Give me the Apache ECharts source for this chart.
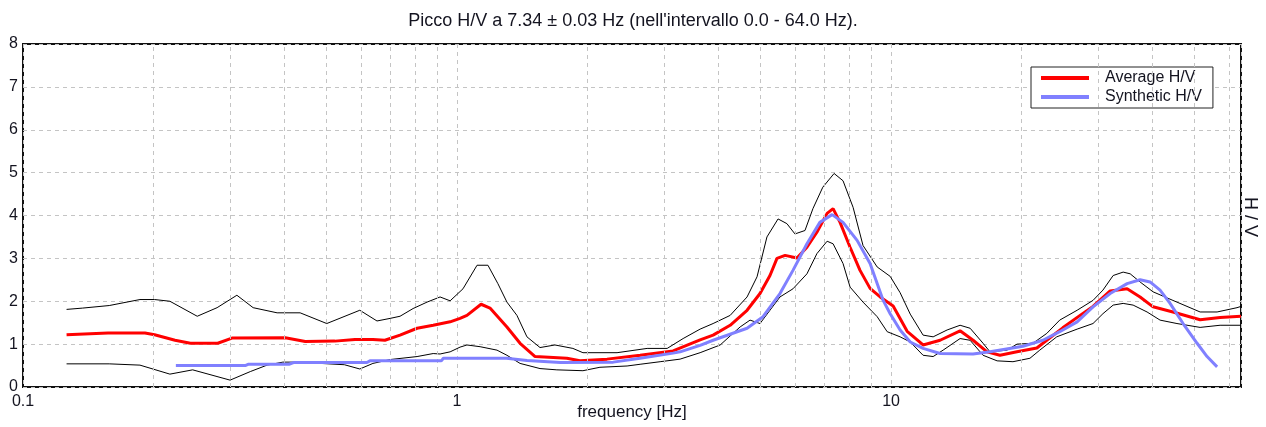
<!DOCTYPE html>
<html>
<head>
<meta charset="utf-8">
<script src="https://cdn.jsdelivr.net/npm/echarts@6/dist/echarts.min.js"></script>
<style>
html,body{margin:0;padding:0;background:#fff;}
#c{width:1266px;height:427px;}
</style>
</head>
<body>
<div id="c"></div>
<script>
// ---- data (frequency [Hz], H/V) ----
const titleText = "Picco H/V a 7.34 \u00b1 0.03 Hz (nell'intervallo 0.0 - 64.0 Hz).";
const xName = "frequency [Hz]";
const yName = "H / V";
const seriesNames = ["Average H/V", "Synthetic H/V"];

const averageHV = [[0.126,1.22],[0.157,1.26],[0.191,1.26],[0.201,1.22],[0.224,1.09],[0.243,1.02],[0.281,1.02],[0.303,1.14],[0.402,1.15],[0.447,1.06],[0.523,1.07],[0.582,1.11],[0.64,1.11],[0.682,1.09],[0.739,1.21],[0.809,1.37],[0.881,1.44],[0.964,1.52],[1.016,1.60],[1.054,1.67],[1.136,1.93],[1.191,1.84],[1.303,1.40],[1.397,1.02],[1.513,0.71],[1.791,0.67],[1.919,0.61],[2.216,0.65],[2.641,0.74],[3.146,0.84],[3.631,1.10],[3.890,1.21],[4.258,1.44],[4.658,1.79],[4.989,2.18],[5.260,2.60],[5.459,3.00],[5.700,3.07],[6.069,3.01],[6.400,3.26],[6.746,3.61],[7.122,4.05],[7.352,4.16],[7.628,3.84],[8.045,3.26],[8.481,2.72],[8.946,2.30],[9.437,2.10],[10.11,1.89],[10.89,1.30],[11.85,0.98],[12.97,1.09],[14.42,1.31],[15.45,1.09],[16.64,0.82],[17.82,0.74],[19.50,0.82],[21.67,0.91],[22.84,1.09],[24.86,1.38],[27.25,1.67],[29.19,1.88],[31.97,2.24],[34.98,2.29],[37.47,2.10],[40.14,1.87],[44.60,1.75],[51.52,1.57],[57.28,1.62],[64,1.65]];

const syntheticHV = [[0.225,0.50],[0.325,0.50],[0.33,0.53],[0.41,0.53],[0.42,0.57],[0.62,0.57],[0.63,0.61],[0.92,0.61],[0.93,0.67],[1.30,0.67],[1.45,0.62],[1.73,0.57],[2.29,0.58],[2.64,0.67],[3.146,0.79],[3.265,0.82],[3.631,0.97],[3.890,1.09],[4.658,1.37],[5.070,1.64],[5.546,2.18],[5.942,2.72],[6.400,3.34],[6.853,3.84],[7.313,4.02],[7.750,3.84],[8.350,3.42],[8.946,2.88],[9.589,2.02],[9.952,1.71],[10.49,1.33],[11.07,1.05],[11.85,0.90],[12.97,0.78],[15.45,0.77],[16.90,0.82],[20.13,0.95],[22.37,1.09],[24.46,1.29],[26.83,1.52],[29.19,1.87],[31.97,2.18],[34.98,2.41],[37.47,2.50],[39.50,2.45],[41.66,2.26],[43.93,1.95],[47.07,1.48],[50.70,1.02],[53.46,0.71],[56.38,0.47]];

const upperHV = [[0.126,1.81],[0.137,1.84],[0.158,1.90],[0.186,2.04],[0.201,2.04],[0.218,2.00],[0.252,1.65],[0.28,1.85],[0.311,2.14],[0.339,1.85],[0.385,1.73],[0.435,1.73],[0.501,1.48],[0.597,1.79],[0.654,1.54],[0.701,1.60],[0.739,1.65],[0.792,1.83],[0.853,1.98],[0.914,2.10],[0.964,2.01],[1.032,2.29],[1.112,2.84],[1.178,2.84],[1.242,2.41],[1.303,1.98],[1.374,1.67],[1.449,1.17],[1.553,0.92],[1.681,0.98],[1.849,0.90],[1.95,0.80],[2.337,0.80],[2.741,0.90],[3.049,0.90],[3.318,1.13],[3.631,1.35],[3.890,1.48],[4.258,1.67],[4.658,2.10],[4.911,2.57],[5.176,3.50],[5.49,3.92],[5.754,3.81],[6.005,3.57],[6.333,3.65],[6.606,4.16],[6.961,4.66],[7.391,4.98],[7.75,4.81],[8.175,4.19],[8.617,3.30],[9.288,2.80],[9.952,2.58],[10.49,2.20],[11.07,1.70],[11.85,1.21],[12.50,1.17],[13.46,1.33],[14.42,1.44],[15.21,1.37],[16.29,1.02],[16.90,0.82],[18.49,0.86],[19.50,1.00],[21.22,1.02],[22.84,1.25],[24.46,1.56],[26.83,1.79],[29.19,2.02],[30.77,2.26],[32.48,2.60],[34.25,2.68],[35.55,2.64],[37.47,2.45],[40.14,2.22],[44.60,2.02],[51.52,1.75],[56.38,1.75],[62.66,1.85],[64,1.88]];

const lowerHV = [[0.126,0.54],[0.158,0.54],[0.186,0.51],[0.218,0.30],[0.246,0.40],[0.30,0.16],[0.334,0.36],[0.365,0.51],[0.397,0.58],[0.428,0.58],[0.55,0.52],[0.597,0.42],[0.64,0.55],[0.701,0.64],[0.809,0.71],[0.881,0.78],[0.914,0.77],[0.964,0.82],[1.016,0.93],[1.054,0.98],[1.13,0.94],[1.236,0.86],[1.303,0.74],[1.397,0.55],[1.553,0.43],[1.698,0.40],[1.95,0.38],[2.134,0.46],[2.465,0.49],[2.641,0.53],[2.937,0.59],[3.265,0.65],[3.631,0.80],[4.039,0.98],[4.489,1.40],[4.732,1.56],[4.989,1.48],[5.26,1.79],[5.546,2.10],[5.942,2.29],[6.40,2.64],[6.746,3.11],[7.122,3.40],[7.352,3.34],[7.75,2.88],[8.045,2.33],[8.617,1.98],[9.288,1.64],[9.795,1.29],[10.49,1.17],[11.07,1.05],[11.85,0.74],[12.50,0.71],[13.18,0.86],[14.42,1.13],[15.21,1.09],[16.29,0.74],[17.55,0.61],[19.09,0.59],[20.89,0.67],[22.01,0.86],[24.08,1.17],[26.83,1.35],[29.19,1.48],[30.77,1.71],[32.48,1.91],[34.25,1.95],[36.11,1.91],[38.88,1.75],[41.66,1.56],[45.57,1.48],[51.52,1.39],[57.28,1.44],[64,1.44]];

const minorGridFreqs = [0.2,0.3,0.4,0.5,0.6,0.7,0.8,0.9,2,3,4,5,6,7,8,9,20,30,40,50,60];
const xMin = 0.1, xMax = 64, yMin = 0, yMax = 8, yStep = 1;

// ---- chart ----
const FONT = "'Liberation Sans', Arial, sans-serif";
const TXT = '#141420';
const gridDash = {type:[4,4], color:'#c4c4c4', width:1};
const chart = echarts.init(document.getElementById('c'), null, {renderer:'canvas'});
chart.setOption({
  animation:false,
  backgroundColor:'#fff',
  title:{text:titleText, left:'center', top:7,
    textStyle:{fontFamily:FONT, fontSize:18, fontWeight:'normal', color:TXT}},
  legend:{data:seriesNames, orient:'vertical', left:1031, top:67,
    backgroundColor:'#fff', borderColor:'#222', borderWidth:1, borderRadius:0,
    padding:[3,11,3,10], itemGap:3, itemWidth:48, itemHeight:4, icon:'rect',
    textStyle:{fontFamily:FONT, fontSize:16, color:TXT, padding:[0,0,0,11]}},
  grid:{left:23, right:25, top:44, bottom:40, show:true, borderColor:'#111', borderWidth:2,
    backgroundColor:'#fff', containLabel:false, outerBoundsMode:'none'},
  xAxis:{type:'log', logBase:10, min:xMin, max:xMax,
    name:xName, nameLocation:'middle', nameGap:17, nameMoveOverlap:false,
    nameTextStyle:{fontFamily:FONT, fontSize:17, color:TXT},
    axisLine:{show:false}, axisTick:{show:false},
    axisLabel:{fontFamily:FONT, fontSize:16, color:TXT, margin:7, showMaxLabel:false,
      formatter:v=>String(+v.toPrecision(3))},
    splitLine:{show:true, lineStyle:gridDash}},
  yAxis:{type:'value', min:yMin, max:yMax, interval:yStep,
    axisLine:{show:false}, axisTick:{show:false},
    axisLabel:{fontFamily:FONT, fontSize:16, color:TXT, margin:5},
    splitLine:{show:true, lineStyle:gridDash}},
  graphic:[{type:'text', left:1241, top:197, rotation:-Math.PI/2,
    style:{text:yName, font:"18px 'Liberation Sans', Arial, sans-serif", fill:TXT}}],
  series:[
    {name:'grid', type:'line', data:[], z:1, silent:true,
      markLine:{silent:true, symbol:'none', label:{show:false}, lineStyle:gridDash,
        data:minorGridFreqs.map(f=>({xAxis:f}))}},
    {name:'upper', type:'line', data:upperHV, showSymbol:false, symbol:'none',
      lineStyle:{color:'#000', width:1}, itemStyle:{color:'#000'}, z:3},
    {name:'lower', type:'line', data:lowerHV, showSymbol:false, symbol:'none',
      lineStyle:{color:'#000', width:1}, itemStyle:{color:'#000'}, z:3},
    {name:seriesNames[0], type:'line', data:averageHV, showSymbol:false, symbol:'none',
      lineStyle:{color:'#ff0000', width:3}, itemStyle:{color:'#ff0000'}, z:4},
    {name:seriesNames[1], type:'line', data:syntheticHV, showSymbol:false, symbol:'none',
      lineStyle:{color:'#8080ff', width:3}, itemStyle:{color:'#8080ff'}, z:5}
  ]
});
</script>
</body>
</html>
